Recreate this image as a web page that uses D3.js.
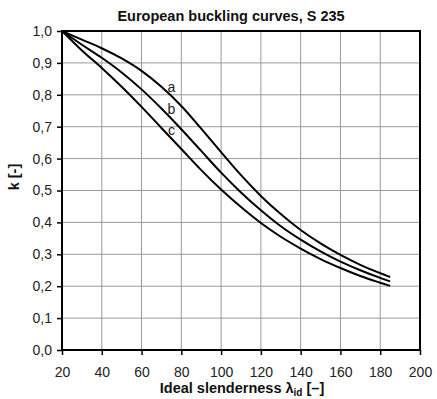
<!DOCTYPE html>
<html>
<head>
<meta charset="utf-8">
<script src="https://cdn.jsdelivr.net/npm/d3@7"></script>
<style>
  body { margin: 0; background: #fff; }
  svg { font-family: "Liberation Sans", Arial, sans-serif; }
</style>
</head>
<body>
<script>
const w = 437;
const h = 399;

// slenderness values (x)
const lambda = [20, 30, 40, 50, 60, 70, 80, 90, 100, 110, 120, 130, 140, 150, 160, 170, 180, 185];

// reduction factor k for each buckling curve
const curveA = [1.000, 0.973, 0.946, 0.914, 0.875, 0.825, 0.765, 0.694, 0.620, 0.548, 0.483, 0.426, 0.376, 0.334, 0.298, 0.267, 0.241, 0.229];
const curveB = [1.000, 0.957, 0.916, 0.870, 0.817, 0.757, 0.692, 0.624, 0.556, 0.494, 0.438, 0.388, 0.346, 0.309, 0.277, 0.250, 0.226, 0.215];
const curveC = [1.000, 0.939, 0.884, 0.825, 0.762, 0.696, 0.630, 0.564, 0.503, 0.448, 0.398, 0.355, 0.318, 0.285, 0.257, 0.232, 0.211, 0.201];

const curveNames = ["a", "b", "c"];
// where the curve letters sit (lambda, k)
const labelLambda = [75, 75, 75];
const labelK = [0.81, 0.74, 0.674];

const xTicks = [20, 40, 60, 80, 100, 120, 140, 160, 180, 200];
const yTicks = [0, 0.1, 0.2, 0.3, 0.4, 0.5, 0.6, 0.7, 0.8, 0.9, 1.0];

const svg = d3.select("body").append("svg").attr("width", w).attr("height", h);

const xScale = d3.scaleLinear().domain([20, 200]).range([62, 420]);
const yScale = d3.scaleLinear().domain([0, 1]).range([350, 31]);

// grid
svg.append("g")
    .selectAll("line")
    .data(xTicks.slice(1, -1))
    .enter()
    .append("line")
    .attr("x1", d => xScale(d)).attr("x2", d => xScale(d))
    .attr("y1", yScale(0)).attr("y2", yScale(1))
    .attr("stroke", "#9a9a9a").attr("stroke-width", 1);

svg.append("g")
    .selectAll("line")
    .data(yTicks.slice(1, -1))
    .enter()
    .append("line")
    .attr("x1", xScale(20)).attr("x2", xScale(200))
    .attr("y1", d => yScale(d)).attr("y2", d => yScale(d))
    .attr("stroke", "#9a9a9a").attr("stroke-width", 1);

// axes
const fmt = d => d3.format(".1f")(d).replace(".", ",");
const xAxis = d3.axisBottom().scale(xScale).tickValues(xTicks).tickSize(5).tickPadding(12);
const yAxis = d3.axisLeft().scale(yScale).tickValues(yTicks).tickFormat(fmt).tickSize(5).tickPadding(5);

const gx = svg.append("g")
    .attr("transform", "translate(0," + yScale(0) + ")")
    .call(xAxis);
const gy = svg.append("g")
    .attr("transform", "translate(" + xScale(20) + ",0)")
    .call(yAxis);

[gx, gy].forEach(g => {
    g.select(".domain").remove();
    g.selectAll(".tick line").attr("stroke", "#000").attr("stroke-width", 1.5);
    g.selectAll(".tick text").attr("fill", "#222").style("font-size", "14px").style("font-family", "'Liberation Sans', Arial, sans-serif");
});

// frame
svg.append("rect")
    .attr("x", xScale(20)).attr("y", yScale(1))
    .attr("width", xScale(200) - xScale(20))
    .attr("height", yScale(0) - yScale(1))
    .attr("fill", "none").attr("stroke", "#000").attr("stroke-width", 2);

// curves
const line = d3.line()
    .x(d => xScale(d[0]))
    .y(d => yScale(d[1]))
    .curve(d3.curveMonotoneX);

[curveA, curveB, curveC].forEach(vals => {
    svg.append("path")
        .datum(lambda.map((l, i) => [l, vals[i]]))
        .attr("d", line)
        .attr("fill", "none")
        .attr("stroke", "#000")
        .attr("stroke-width", 2);
});

// curve letters
svg.selectAll(".curvelabel")
    .data(curveNames)
    .enter()
    .append("text")
    .attr("class", "curvelabel")
    .attr("x", (d, i) => xScale(labelLambda[i]))
    .attr("y", (d, i) => yScale(labelK[i]))
    .attr("text-anchor", "middle")
    .style("font-size", "14px")
    .attr("fill", "#222")
    .text(d => d);

// title
svg.append("text")
    .attr("x", 231)
    .attr("y", 21)
    .attr("text-anchor", "middle")
    .style("font-size", "14.5px")
    .style("font-weight", "bold")
    .attr("fill", "#111")
    .text("European buckling curves, S 235");

// x label
const xl = svg.append("text")
    .attr("x", 242)
    .attr("y", 393)
    .attr("text-anchor", "middle")
    .style("font-size", "14.5px")
    .style("font-weight", "bold")
    .attr("fill", "#111");
xl.append("tspan").text("Ideal slenderness λ");
xl.append("tspan").attr("dy", 3).style("font-size", "10px").text("id");
xl.append("tspan").attr("dy", -3).text(" [–]");

// y label
svg.append("text")
    .attr("transform", "translate(19,177) rotate(-90)")
    .attr("text-anchor", "middle")
    .style("font-size", "14.5px")
    .style("font-weight", "bold")
    .attr("fill", "#111")
    .text("k [-]");
</script>
</body>
</html>
